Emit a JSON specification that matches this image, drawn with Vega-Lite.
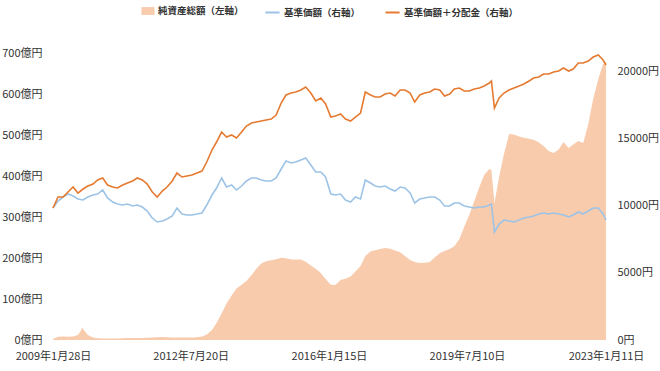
{
"$schema": "https://vega.github.io/schema/vega-lite/v6.json",
"width": 553,
"height": 287,
"autosize": {"type": "none"},
"padding": {"left": 53, "top": 53, "right": 54, "bottom": 31},
"background": "white",
"config": {
  "view": {"stroke": null},
  "font": "Noto Sans CJK JP",
  "axis": {"labelFont": "Noto Sans CJK JP", "labelFontSize": 11, "labelColor": "#333333", "domain": false, "ticks": false, "grid": false, "title": null},
  "legend": {"layout": {"top": {"anchor": "middle", "direction": "horizontal", "margin": 20}}}
},
"datasets": {
"nav": [
{"date":"2009-01-28","value":2.4},{"date":"2009-03-15","value":8.0},{"date":"2009-05-01","value":8.5},{"date":"2009-06-15","value":7.8},{"date":"2009-08-01","value":8.8},{"date":"2009-09-15","value":12.2},{"date":"2009-10-10","value":22.0},{"date":"2009-10-25","value":30.5},{"date":"2009-11-01","value":26.8},{"date":"2009-12-15","value":12.2},
{"date":"2010-02-01","value":6.1},{"date":"2010-03-15","value":4.1},{"date":"2010-05-01","value":3.7},{"date":"2010-06-15","value":3.7},{"date":"2010-08-01","value":3.7},{"date":"2010-09-15","value":3.7},{"date":"2010-11-01","value":4.1},{"date":"2010-12-15","value":4.6},
{"date":"2011-02-01","value":4.9},{"date":"2011-03-15","value":4.9},{"date":"2011-05-01","value":4.9},{"date":"2011-06-15","value":5.6},{"date":"2011-08-01","value":6.1},{"date":"2011-09-15","value":6.6},{"date":"2011-11-01","value":7.3},{"date":"2011-12-15","value":6.8},
{"date":"2012-02-01","value":6.3},{"date":"2012-03-15","value":6.1},{"date":"2012-05-01","value":6.1},{"date":"2012-06-15","value":6.1},{"date":"2012-08-01","value":6.3},{"date":"2012-09-15","value":6.8},{"date":"2012-11-01","value":8.3},{"date":"2012-12-15","value":13.4},
{"date":"2013-02-01","value":24.4},{"date":"2013-03-15","value":41.5},{"date":"2013-05-01","value":64.6},{"date":"2013-06-15","value":89.0},{"date":"2013-08-01","value":108.8},{"date":"2013-09-15","value":125.6},{"date":"2013-11-01","value":134.9},{"date":"2013-12-15","value":143.9},
{"date":"2014-02-01","value":158.5},{"date":"2014-03-15","value":173.2},{"date":"2014-05-01","value":186.6},{"date":"2014-06-15","value":191.9},{"date":"2014-08-01","value":194.4},{"date":"2014-09-15","value":196.8},{"date":"2014-11-01","value":200.7},{"date":"2014-12-15","value":199.3},
{"date":"2015-02-01","value":196.1},{"date":"2015-03-15","value":196.6},{"date":"2015-05-01","value":196.1},{"date":"2015-06-15","value":190.7},{"date":"2015-08-01","value":182.0},{"date":"2015-09-15","value":173.7},{"date":"2015-11-01","value":163.7},{"date":"2015-12-15","value":148.8},
{"date":"2016-02-01","value":134.6},{"date":"2016-03-15","value":134.1},{"date":"2016-05-01","value":146.3},{"date":"2016-06-15","value":149.5},{"date":"2016-08-01","value":155.1},{"date":"2016-09-15","value":167.3},{"date":"2016-11-01","value":180.5},{"date":"2016-12-15","value":204.9},
{"date":"2017-02-01","value":215.6},{"date":"2017-03-15","value":218.8},{"date":"2017-05-01","value":222.0},{"date":"2017-06-15","value":224.4},{"date":"2017-08-01","value":222.4},{"date":"2017-09-15","value":218.5},{"date":"2017-11-01","value":214.1},{"date":"2017-12-15","value":204.9},
{"date":"2018-02-01","value":195.1},{"date":"2018-03-15","value":190.0},{"date":"2018-05-01","value":187.8},{"date":"2018-06-15","value":188.5},{"date":"2018-08-01","value":190.2},{"date":"2018-09-15","value":201.2},{"date":"2018-11-01","value":211.5},{"date":"2018-12-15","value":217.3},
{"date":"2019-02-01","value":222.0},{"date":"2019-03-15","value":228.4},{"date":"2019-05-01","value":246.3},{"date":"2019-06-15","value":276.1},{"date":"2019-08-01","value":306.1},{"date":"2019-09-15","value":338.3},{"date":"2019-11-01","value":373.2},{"date":"2019-12-15","value":402.4},
{"date":"2020-02-01","value":417.1},{"date":"2020-02-20","value":414.6},{"date":"2020-03-19","value":334.1},{"date":"2020-05-01","value":397.6},{"date":"2020-06-15","value":453.7},{"date":"2020-08-01","value":502.5},{"date":"2020-09-15","value":501.2},{"date":"2020-11-01","value":496.1},{"date":"2020-12-15","value":493.2},
{"date":"2021-02-01","value":490.7},{"date":"2021-03-15","value":488.3},{"date":"2021-05-01","value":482.2},{"date":"2021-06-15","value":473.2},{"date":"2021-08-01","value":461.0},{"date":"2021-09-15","value":456.1},{"date":"2021-11-01","value":464.6},{"date":"2021-12-15","value":482.9},
{"date":"2022-02-01","value":468.3},{"date":"2022-03-15","value":476.8},{"date":"2022-05-01","value":485.4},{"date":"2022-06-15","value":480.5},{"date":"2022-08-01","value":526.8},{"date":"2022-09-15","value":587.8},{"date":"2022-11-01","value":636.6},{"date":"2022-12-15","value":673.2},{"date":"2023-01-11","value":678.0}
],
"price": [
{"date":"2009-01-28","value":9842},{"date":"2009-03-15","value":10364},{"date":"2009-05-01","value":10662},{"date":"2009-06-15","value":10886},{"date":"2009-08-01","value":10737},{"date":"2009-09-15","value":10513},{"date":"2009-11-01","value":10438},{"date":"2009-12-15","value":10662},
{"date":"2010-02-01","value":10811},{"date":"2010-03-15","value":10886},{"date":"2010-05-01","value":11185},{"date":"2010-06-15","value":10588},{"date":"2010-08-01","value":10289},{"date":"2010-09-15","value":10140},{"date":"2010-11-01","value":10066},{"date":"2010-12-15","value":10140},
{"date":"2011-02-01","value":9991},{"date":"2011-03-15","value":10066},{"date":"2011-05-01","value":9916},{"date":"2011-06-15","value":9618},{"date":"2011-08-01","value":9096},{"date":"2011-09-15","value":8798},{"date":"2011-11-01","value":8873},{"date":"2011-12-15","value":9022},
{"date":"2012-02-01","value":9245},{"date":"2012-03-15","value":9842},{"date":"2012-05-01","value":9395},{"date":"2012-06-15","value":9320},{"date":"2012-08-01","value":9320},{"date":"2012-09-15","value":9395},{"date":"2012-11-01","value":9469},{"date":"2012-12-15","value":10066},
{"date":"2013-02-01","value":10811},{"date":"2013-03-15","value":11333},{"date":"2013-05-01","value":12079},{"date":"2013-06-15","value":11408},{"date":"2013-08-01","value":11557},{"date":"2013-09-15","value":11184},{"date":"2013-11-01","value":11482},{"date":"2013-12-15","value":11855},
{"date":"2014-02-01","value":12079},{"date":"2014-03-15","value":12079},{"date":"2014-05-01","value":11930},{"date":"2014-06-15","value":11855},{"date":"2014-08-01","value":11855},{"date":"2014-09-15","value":12079},{"date":"2014-11-01","value":12750},{"date":"2014-12-15","value":13346},
{"date":"2015-02-01","value":13197},{"date":"2015-03-15","value":13272},{"date":"2015-05-01","value":13421},{"date":"2015-06-15","value":13570},{"date":"2015-08-01","value":13048},{"date":"2015-09-15","value":12526},{"date":"2015-11-01","value":12526},{"date":"2015-12-15","value":12153},
{"date":"2016-02-01","value":10886},{"date":"2016-03-15","value":10811},{"date":"2016-05-01","value":10886},{"date":"2016-06-15","value":10438},{"date":"2016-08-01","value":10289},{"date":"2016-09-15","value":10662},{"date":"2016-11-01","value":10513},{"date":"2016-12-15","value":11930},
{"date":"2017-02-01","value":11706},{"date":"2017-03-15","value":11482},{"date":"2017-05-01","value":11408},{"date":"2017-06-15","value":11482},{"date":"2017-08-01","value":11259},{"date":"2017-09-15","value":11109},{"date":"2017-11-01","value":11408},{"date":"2017-12-15","value":11333},
{"date":"2018-02-01","value":10960},{"date":"2018-03-15","value":10215},{"date":"2018-05-01","value":10513},{"date":"2018-06-15","value":10588},{"date":"2018-08-01","value":10662},{"date":"2018-09-15","value":10662},{"date":"2018-11-01","value":10438},{"date":"2018-12-15","value":9991},
{"date":"2019-02-01","value":9991},{"date":"2019-03-15","value":10215},{"date":"2019-05-01","value":10215},{"date":"2019-06-15","value":9991},{"date":"2019-08-01","value":9916},{"date":"2019-09-15","value":9842},{"date":"2019-11-01","value":9916},{"date":"2019-12-15","value":9916},
{"date":"2020-02-01","value":10066},{"date":"2020-02-20","value":10140},{"date":"2020-03-19","value":8052},{"date":"2020-05-01","value":8649},{"date":"2020-06-15","value":8947},{"date":"2020-08-01","value":8873},{"date":"2020-09-15","value":8798},{"date":"2020-11-01","value":8947},{"date":"2020-12-15","value":9096},
{"date":"2021-02-01","value":9171},{"date":"2021-03-15","value":9245},{"date":"2021-05-01","value":9395},{"date":"2021-06-15","value":9469},{"date":"2021-08-01","value":9395},{"date":"2021-09-15","value":9469},{"date":"2021-11-01","value":9395},{"date":"2021-12-15","value":9320},
{"date":"2022-02-01","value":9171},{"date":"2022-03-15","value":9320},{"date":"2022-05-01","value":9544},{"date":"2022-06-15","value":9395},{"date":"2022-08-01","value":9618},{"date":"2022-09-15","value":9842},{"date":"2022-11-01","value":9842},{"date":"2022-12-15","value":9395},{"date":"2023-01-11","value":8947}
],
"div": [
{"date":"2009-01-28","value":9842},{"date":"2009-03-15","value":10662},{"date":"2009-05-01","value":10662},{"date":"2009-06-15","value":11035},{"date":"2009-08-01","value":11408},{"date":"2009-09-15","value":10960},{"date":"2009-11-01","value":11259},{"date":"2009-12-15","value":11482},
{"date":"2010-02-01","value":11631},{"date":"2010-03-15","value":11930},{"date":"2010-05-01","value":12079},{"date":"2010-06-15","value":11557},{"date":"2010-08-01","value":11408},{"date":"2010-09-15","value":11333},{"date":"2010-11-01","value":11557},{"date":"2010-12-15","value":11706},
{"date":"2011-02-01","value":11855},{"date":"2011-03-15","value":12079},{"date":"2011-05-01","value":11930},{"date":"2011-06-15","value":11631},{"date":"2011-08-01","value":11035},{"date":"2011-09-15","value":10662},{"date":"2011-11-01","value":11109},{"date":"2011-12-15","value":11408},
{"date":"2012-02-01","value":11855},{"date":"2012-03-15","value":12452},{"date":"2012-05-01","value":12153},{"date":"2012-06-15","value":12228},{"date":"2012-08-01","value":12302},{"date":"2012-09-15","value":12452},{"date":"2012-11-01","value":12601},{"date":"2012-12-15","value":13272},
{"date":"2013-02-01","value":14166},{"date":"2013-03-15","value":14763},{"date":"2013-05-01","value":15508},{"date":"2013-06-15","value":15136},{"date":"2013-08-01","value":15285},{"date":"2013-09-15","value":15061},{"date":"2013-11-01","value":15508},{"date":"2013-12-15","value":15956},
{"date":"2014-02-01","value":16180},{"date":"2014-03-15","value":16254},{"date":"2014-05-01","value":16329},{"date":"2014-06-15","value":16403},{"date":"2014-08-01","value":16478},{"date":"2014-09-15","value":16776},{"date":"2014-11-01","value":17671},{"date":"2014-12-15","value":18267},
{"date":"2015-02-01","value":18416},{"date":"2015-03-15","value":18491},{"date":"2015-05-01","value":18640},{"date":"2015-06-15","value":18864},{"date":"2015-08-01","value":18416},{"date":"2015-09-15","value":17820},{"date":"2015-11-01","value":18044},{"date":"2015-12-15","value":17596},
{"date":"2016-02-01","value":16627},{"date":"2016-03-15","value":16701},{"date":"2016-05-01","value":16851},{"date":"2016-06-15","value":16478},{"date":"2016-08-01","value":16329},{"date":"2016-09-15","value":16627},{"date":"2016-11-01","value":16925},{"date":"2016-12-15","value":18491},
{"date":"2017-02-01","value":18267},{"date":"2017-03-15","value":18118},{"date":"2017-05-01","value":18118},{"date":"2017-06-15","value":18342},{"date":"2017-08-01","value":18416},{"date":"2017-09-15","value":18193},{"date":"2017-11-01","value":18640},{"date":"2017-12-15","value":18640},
{"date":"2018-02-01","value":18416},{"date":"2018-03-15","value":17745},{"date":"2018-05-01","value":18267},{"date":"2018-06-15","value":18416},{"date":"2018-08-01","value":18491},{"date":"2018-09-15","value":18715},{"date":"2018-11-01","value":18640},{"date":"2018-12-15","value":18193},
{"date":"2019-02-01","value":18342},{"date":"2019-03-15","value":18715},{"date":"2019-05-01","value":18789},{"date":"2019-06-15","value":18565},{"date":"2019-08-01","value":18565},{"date":"2019-09-15","value":18715},{"date":"2019-11-01","value":18789},{"date":"2019-12-15","value":18938},
{"date":"2020-02-01","value":19162},{"date":"2020-02-20","value":19311},{"date":"2020-03-19","value":17298},{"date":"2020-05-01","value":18044},{"date":"2020-06-15","value":18416},{"date":"2020-08-01","value":18640},{"date":"2020-09-15","value":18789},{"date":"2020-11-01","value":18938},{"date":"2020-12-15","value":19087},
{"date":"2021-02-01","value":19311},{"date":"2021-03-15","value":19535},{"date":"2021-05-01","value":19609},{"date":"2021-06-15","value":19833},{"date":"2021-08-01","value":19833},{"date":"2021-09-15","value":19982},{"date":"2021-11-01","value":20057},{"date":"2021-12-15","value":20280},
{"date":"2022-02-01","value":20057},{"date":"2022-03-15","value":20206},{"date":"2022-05-01","value":20653},{"date":"2022-06-15","value":20653},{"date":"2022-08-01","value":20802},{"date":"2022-09-15","value":21100},{"date":"2022-11-01","value":21250},{"date":"2022-12-15","value":20877},{"date":"2023-01-11","value":20504}
]
},
"layer": [
  {
    "data": {"name": "nav"},
    "mark": {"type": "area", "opacity": 1},
    "encoding": {
      "x": {"field": "date", "type": "temporal",
        "scale": {"type": "utc", "nice": false, "domain": [{"year": 2009, "month": 1, "date": 28, "utc": true}, {"year": 2023, "month": 1, "date": 11, "utc": true}]},
        "axis": {"values": [{"year": 2009, "month": 1, "date": 28, "utc": true}, {"year": 2012, "month": 7, "date": 20, "utc": true}, {"year": 2016, "month": 1, "date": 15, "utc": true}, {"year": 2019, "month": 7, "date": 10, "utc": true}, {"year": 2023, "month": 1, "date": 11, "utc": true}],
          "labelExpr": "utcFormat(datum.value, '%Y年%-m月%-d日')", "labelFlush": false, "labelOverlap": false, "labelPadding": 10}},
      "y": {"field": "value", "type": "quantitative",
        "scale": {"domain": [0, 700], "nice": false},
        "axis": {"orient": "left", "values": [0, 100, 200, 300, 400, 500, 600, 700], "labelExpr": "datum.value + '億円'", "labelPadding": 11}},
      "fill": {"datum": "純資産総額（左軸）", "type": "nominal",
        "scale": {"domain": ["純資産総額（左軸）"], "range": ["#F8CBAD"]},
        "legend": {"title": null, "orient": "top", "offset": 36, "symbolType": "M-1,-0.6H1V0.6H-1Z", "symbolSize": 170, "symbolStrokeWidth": 0, "labelFontSize": 9.5, "labelFontWeight": "bold", "labelColor": "#333333", "labelFont": "Noto Sans CJK JP", "labelOffset": 3}}
    }
  },
  {
    "layer": [
      {
        "data": {"name": "price"},
        "mark": {"type": "line", "strokeWidth": 1.6},
        "encoding": {
          "x": {"field": "date", "type": "temporal"},
          "y": {"field": "value", "type": "quantitative",
            "scale": {"domain": [0, 21400], "nice": false},
            "axis": {"orient": "right", "values": [0, 5000, 10000, 15000, 20000], "labelExpr": "datum.value + '円'", "labelPadding": 11}},
          "stroke": {"datum": "基準価額（右軸）", "type": "nominal",
            "scale": {"domain": ["基準価額（右軸）", "基準価額＋分配金（右軸）"], "range": ["#9DC3E6", "#E57A30"]},
            "legend": {"title": null, "orient": "top", "offset": 36, "symbolType": "stroke", "symbolSize": 200, "symbolStrokeWidth": 2, "columnPadding": 20, "labelFontSize": 9.5, "labelFontWeight": "bold", "labelColor": "#333333", "labelFont": "Noto Sans CJK JP", "labelOffset": 3}}
        }
      },
      {
        "data": {"name": "div"},
        "mark": {"type": "line", "strokeWidth": 1.6},
        "encoding": {
          "x": {"field": "date", "type": "temporal"},
          "y": {"field": "value", "type": "quantitative"},
          "stroke": {"datum": "基準価額＋分配金（右軸）", "type": "nominal"}
        }
      }
    ]
  }
],
"resolve": {"scale": {"y": "independent"}}
}
